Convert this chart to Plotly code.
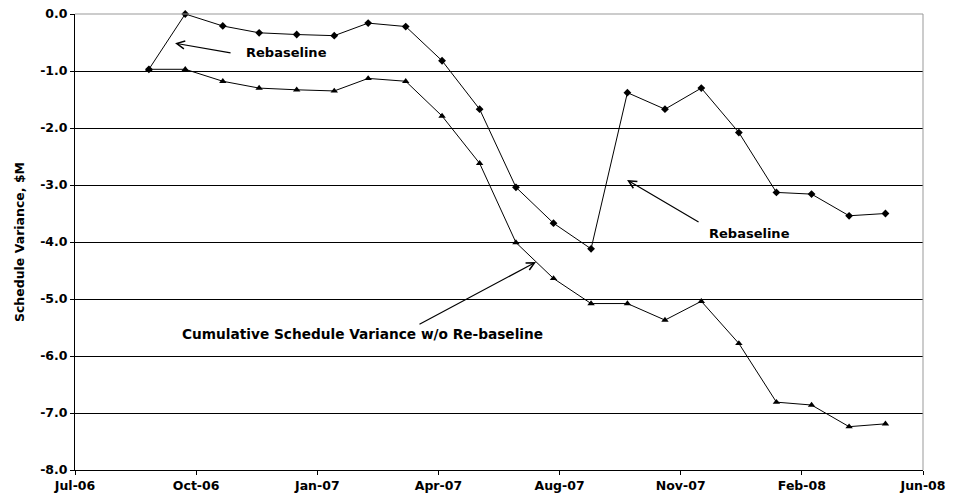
import plotly.graph_objects as go
import pandas as pd

# ---- data ----
dates = pd.date_range("2006-08-31", periods=21, freq="ME")
rebaseline = [-0.97, 0.00, -0.21, -0.33, -0.36, -0.38, -0.16, -0.22, -0.82, -1.67,
              -3.04, -3.67, -4.12, -1.38, -1.67, -1.30, -2.08, -3.13, -3.16, -3.54, -3.50]
cumulative = [-0.97, -0.97, -1.18, -1.30, -1.33, -1.35, -1.13, -1.18, -1.79, -2.62,
              -4.01, -4.64, -5.08, -5.08, -5.37, -5.04, -5.78, -6.81, -6.86, -7.24, -7.19]
x_tick_labels = ["Jul-06", "Oct-06", "Jan-07", "Apr-07", "Aug-07", "Nov-07", "Feb-08", "Jun-08"]
y_ticks = [0, -1, -2, -3, -4, -5, -6, -7, -8]
y_title = "Schedule Variance, $M"
ann_rebase = "Rebaseline"
ann_cum = "Cumulative Schedule Variance w/o Re-baseline"

start = pd.Timestamp("2006-07-01")
tickvals = [start + pd.Timedelta(days=100 * i) for i in range(len(x_tick_labels))]

FONT = "DejaVu Sans"
fig = go.Figure()
fig.add_trace(go.Scatter(x=dates, y=cumulative, mode="lines+markers",
                         line=dict(color="black", width=1),
                         marker=dict(symbol="triangle-up", size=6.5, color="black"),
                         cliponaxis=False, showlegend=False))
fig.add_trace(go.Scatter(x=dates, y=rebaseline, mode="lines+markers",
                         line=dict(color="black", width=1),
                         marker=dict(symbol="diamond", size=6, color="black"),
                         cliponaxis=False, showlegend=False))

tf = dict(family=FONT, size=12.5, color="black", weight="bold")
fig.update_layout(
    width=959, height=500,
    margin=dict(l=75, r=36, t=14, b=30),
    paper_bgcolor="white", plot_bgcolor="white",
    xaxis=dict(type="date", range=[tickvals[0], tickvals[-1]], automargin=False,
               tickvals=tickvals, ticktext=x_tick_labels,
               showgrid=False, zeroline=False, showline=True, linecolor="black", linewidth=1,
               ticks="outside", ticklen=4, tickcolor="black", tickfont=tf),
    yaxis=dict(range=[-8, 0], tickvals=y_ticks, ticktext=[f"{v:.1f}" for v in y_ticks],
               automargin=False,
               showgrid=True, gridcolor="black", gridwidth=1, zeroline=False,
               showline=True, linecolor="black", linewidth=1,
               ticks="outside", ticklen=4, tickcolor="black", tickfont=tf,
               title=dict(text=y_title, font=dict(family=FONT, size=12.5, color="black", weight="bold"),
                          standoff=12)),
    shapes=[
        dict(type="line", xref="paper", yref="paper", x0=0, x1=1, y0=1, y1=1,
             line=dict(color="#999999", width=1), layer="above"),
        dict(type="line", xref="paper", yref="paper", x0=1, x1=1, y0=0, y1=1,
             line=dict(color="#999999", width=1), layer="above"),
    ],
)

af = dict(family=FONT, size=13, color="black", weight="bold")
annotations = [
    # arrows
    dict(xref="paper", yref="paper", x=0.118, y=0.936, ax=57, ay=10, text="",
         showarrow=True, arrowhead=5, arrowsize=1.3, arrowwidth=1.2, arrowcolor="black"),
    dict(xref="paper", yref="paper", x=0.651, y=0.636, ax=73, ay=43, text="",
         showarrow=True, arrowhead=5, arrowsize=1.3, arrowwidth=1.2, arrowcolor="black"),
    dict(xref="paper", yref="paper", x=0.5436, y=0.4561, ax=-118, ay=63, text="",
         showarrow=True, arrowhead=5, arrowsize=1.3, arrowwidth=1.2, arrowcolor="black"),
    # texts
    dict(xref="paper", yref="paper", x=0.2494, y=0.9145, text=ann_rebase, showarrow=False,
         xanchor="center", yanchor="middle", font=af),
    dict(xref="paper", yref="paper", x=0.7954, y=0.5197, text=ann_rebase, showarrow=False,
         xanchor="center", yanchor="middle", font=af),
    dict(xref="paper", yref="paper", x=0.339, y=0.298, text=ann_cum, showarrow=False,
         xanchor="center", yanchor="middle",
         font=dict(family=FONT, size=13.7, color="black", weight="bold")),
]
fig.update_layout(annotations=annotations)

fig.write_html("out.html", config={"displayModeBar": False},
               post_script="document.body.style.margin='0px';")
